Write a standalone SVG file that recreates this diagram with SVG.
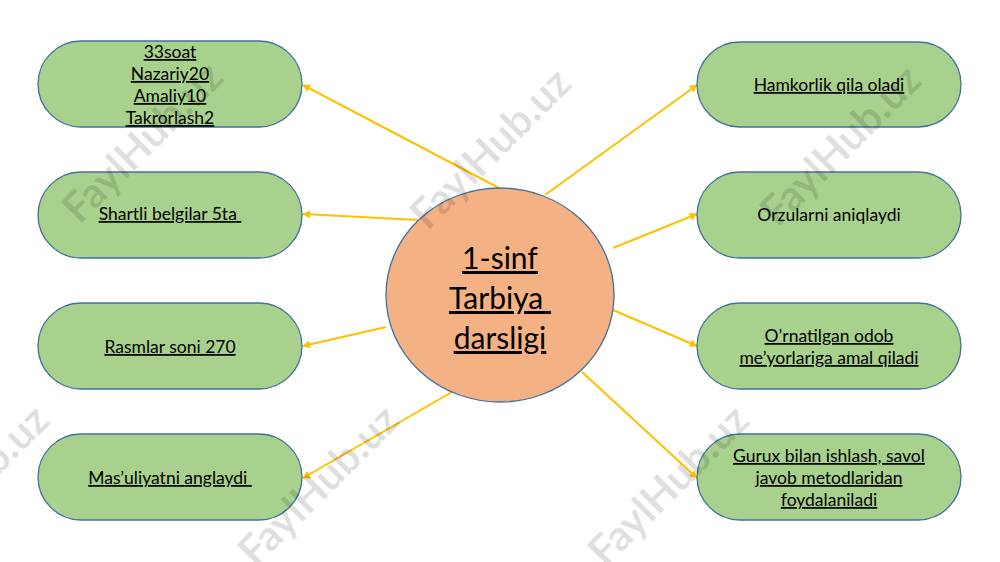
<svg xmlns="http://www.w3.org/2000/svg" width="1000" height="562" viewBox="0 0 1000 562">
<style>
.node{fill:#A9D18E;stroke:#41719C;stroke-width:1.3}
.center{fill:#F4B183;stroke:#41719C;stroke-width:1.3}
.t{font-family:Lato,"Liberation Sans",sans-serif;font-size:17.5px;fill:#000;text-anchor:middle}
.u{text-decoration:underline}
.ct{font-family:Lato,"Liberation Sans",sans-serif;font-size:30px;fill:#000;text-anchor:middle;text-decoration:underline}
.c{stroke:#FFC000;stroke-width:2;fill:none;marker-end:url(#ah)}
.wm{font-family:Lato,"Liberation Sans",sans-serif;font-weight:bold;font-size:42px;fill:#000;fill-opacity:0.12;text-anchor:middle}
</style>
<defs>
<marker id="ah" viewBox="0 0 10 10" refX="9" refY="5" markerWidth="4" markerHeight="4" orient="auto" markerUnits="strokeWidth">
<path d="M0,0 L10,5 L0,10 z" fill="#FFC000"/>
</marker>
</defs>
<rect width="1000" height="562" fill="#fff"/>
<g id="connectors">
<line class="c" x1="499" y1="188" x2="303" y2="85"/>
<line class="c" x1="418" y1="220" x2="303" y2="214"/>
<line class="c" x1="386" y1="327" x2="303" y2="346"/>
<line class="c" x1="452" y1="392" x2="303" y2="478"/>
<line class="c" x1="545" y1="195" x2="697" y2="85"/>
<line class="c" x1="613" y1="248" x2="697" y2="214"/>
<line class="c" x1="613" y1="310" x2="697" y2="346"/>
<line class="c" x1="582" y1="372" x2="697" y2="478"/>
</g>
<g id="center">
<ellipse class="center" cx="500" cy="295" rx="114" ry="107"/>
<text class="ct" x="500" y="269">1-sinf</text>
<text class="ct" x="500" y="309" xml:space="preserve">Tarbiya </text>
<text class="ct" x="500" y="349">darsligi</text>
</g>
<g id="n1">
<rect class="node" x="38" y="41" width="264" height="86" rx="43"/>
<text class="t u" x="170" y="58">33soat</text>
<text class="t u" x="170" y="80">Nazariy20</text>
<text class="t u" x="170" y="102">Amaliy10</text>
<text class="t u" x="170" y="124">Takrorlash2</text>
</g>
<g id="n2">
<rect class="node" x="38" y="172" width="264" height="86" rx="43"/>
<text class="t u" x="170" y="220" xml:space="preserve">Shartli belgilar 5ta </text>
</g>
<g id="n3">
<rect class="node" x="38" y="303" width="264" height="86" rx="43"/>
<text class="t u" x="170" y="353">Rasmlar soni 270</text>
</g>
<g id="n4">
<rect class="node" x="38" y="434" width="264" height="86" rx="43"/>
<text class="t u" x="170" y="484" xml:space="preserve">Mas’uliyatni anglaydi </text>
</g>
<g id="n5">
<rect class="node" x="697" y="42" width="264" height="85" rx="42.5"/>
<text class="t u" x="829" y="91">Hamkorlik qila oladi</text>
</g>
<g id="n6">
<rect class="node" x="697" y="172" width="264" height="86" rx="43"/>
<text class="t" x="829" y="221">Orzularni aniqlaydi</text>
</g>
<g id="n7">
<rect class="node" x="697" y="303" width="264" height="86" rx="43"/>
<text class="t u" x="829" y="342">O’rnatilgan odob</text>
<text class="t u" x="829" y="364">me’yorlariga amal qiladi</text>
</g>
<g id="n8">
<rect class="node" x="697" y="434" width="264" height="86" rx="43"/>
<text class="t u" x="829" y="462">Gurux bilan ishlash, savol</text>
<text class="t u" x="829" y="484">javob metodlaridan</text>
<text class="t u" x="829" y="506">foydalaniladi</text>
</g>
<g id="watermarks">
<text class="wm" transform="translate(142,142) rotate(-45)" y="15">FaylHub.uz</text>
<text class="wm" transform="translate(490,148) rotate(-45)" y="15">FaylHub.uz</text>
<text class="wm" transform="translate(840,145) rotate(-45)" y="15">FaylHub.uz</text>
<text class="wm" transform="translate(-32,485) rotate(-45)" y="15">FaylHub.uz</text>
<text class="wm" transform="translate(318,485) rotate(-45)" y="15">FaylHub.uz</text>
<text class="wm" transform="translate(668,485) rotate(-45)" y="15">FaylHub.uz</text>
</g>
</svg>
